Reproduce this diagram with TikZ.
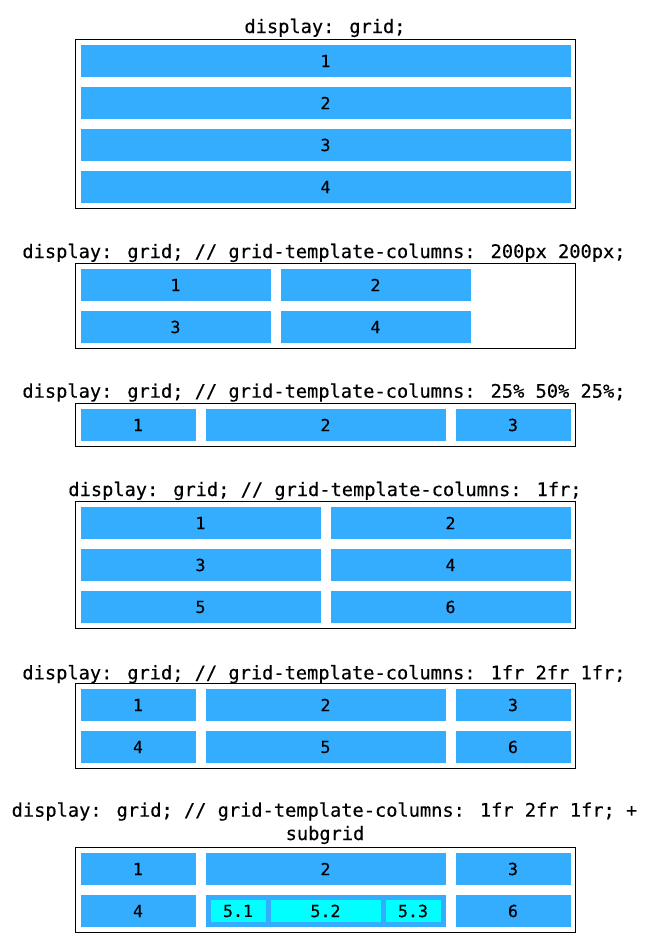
\documentclass[tikz,border=0pt]{standalone}
\usepackage{fontspec}
\newfontfamily\titlefont[FakeBold=0.4]{DejaVu Sans Mono}
\newfontfamily\cellfont[FakeBold=0.3]{DejaVu Sans Mono}
\definecolor{itemblue}{RGB}{53,173,255}
\definecolor{subcyan}{RGB}{0,255,255}
\tikzset{
  cellbox/.style={fill=itemblue, inner sep=0pt, outer sep=0pt, font=\cellfont\fontsize{12.5}{14}\selectfont},
  subbox/.style={cellbox, fill=subcyan},
  gridframe/.style={draw=black, line width=0.75pt, inner sep=0pt, outer sep=0pt},
  titletext/.style={font=\titlefont\fontsize{14}{17.5}\selectfont, anchor=base, inner sep=0pt},
}
% #1 style, #2 name, #3 x1, #4 y1, #5 x2, #6 y2, #7 text
\newcommand\gcell[7][cellbox]{%
  \node[#1, minimum width={(#5-#3)*0.75pt}, minimum height={(#6-#4)*0.75pt}] (#2) at ({(#3+#5)/2},{(#4+#6)/2}) {#7};}
% #1 name, #2 x1, #3 y1, #4 x2, #5 y2
\newcommand\gframe[5]{%
  \node[gridframe, minimum width={(#4-#2)*0.75pt}, minimum height={(#5-#3)*0.75pt}] (#1) at ({(#2+#4)/2},{(#3+#5)/2}) {};}
\begin{document}
\begin{tikzpicture}[x=0.75pt,y=-0.75pt]
\fill[white] (0,0) rectangle (648,950);
\useasboundingbox (0,0) rectangle (648,950);

% ---- Box 1 ----
\node[titletext] (t1) at (325,33) {display: grid;};
\gframe{f1}{75.5}{39.5}{575.5}{208.5}
\gcell{a1}{80.5}{45}{570.5}{77}{1}
\gcell{a2}{80.5}{87}{570.5}{119}{2}
\gcell{a3}{80.5}{129}{570.5}{161}{3}
\gcell{a4}{80.5}{171}{570.5}{203}{4}

% ---- Box 2 ----
\node[titletext] (t2) at (324,258) {display: grid; // grid-template-columns: 200px 200px;};
\gframe{f2}{75.5}{263.5}{575.5}{348.5}
\gcell{b1}{80.5}{269}{270.5}{301}{1}
\gcell{b2}{280.5}{269}{470.5}{301}{2}
\gcell{b3}{80.5}{311}{270.5}{343}{3}
\gcell{b4}{280.5}{311}{470.5}{343}{4}

% ---- Box 3 ----
\node[titletext] (t3) at (324,397.7) {display: grid; // grid-template-columns: 25\% 50\% 25\%;};
\gframe{f3}{75.5}{403.5}{575.5}{446}
\gcell{c1}{80.5}{409}{195.5}{441}{1}
\gcell{c2}{205.5}{409}{445.5}{441}{2}
\gcell{c3}{455.5}{409}{570.5}{441}{3}

% ---- Box 4 ----
\node[titletext] (t4) at (325,496) {display: grid; // grid-template-columns: 1fr;};
\gframe{f4}{75.5}{501.5}{575.5}{628}
\gcell{d1}{80.5}{507}{320.5}{539}{1}
\gcell{d2}{330.5}{507}{570.5}{539}{2}
\gcell{d3}{80.5}{549}{320.5}{581}{3}
\gcell{d4}{330.5}{549}{570.5}{581}{4}
\gcell{d5}{80.5}{591}{320.5}{623}{5}
\gcell{d6}{330.5}{591}{570.5}{623}{6}

% ---- Box 5 ----
\node[titletext] (t5) at (324,679.3) {display: grid; // grid-template-columns: 1fr 2fr 1fr;};
\gframe{f5}{75.5}{683.5}{575.5}{768}
\gcell{e1}{80.5}{689}{195.5}{721}{1}
\gcell{e2}{205.5}{689}{445.5}{721}{2}
\gcell{e3}{455.5}{689}{570.5}{721}{3}
\gcell{e4}{80.5}{731}{195.5}{763}{4}
\gcell{e5}{205.5}{731}{445.5}{763}{5}
\gcell{e6}{455.5}{731}{570.5}{763}{6}

% ---- Box 6 ----
\node[titletext] (t6a) at (324.5,816.7) {display: grid; // grid-template-columns: 1fr 2fr 1fr; +};
\node[titletext] (t6b) at (325,840) {subgrid};
\gframe{f6}{75.5}{847.5}{575.5}{932.5}
\gcell{g1}{80.5}{853}{195.5}{885}{1}
\gcell{g2}{205.5}{853}{445.5}{885}{2}
\gcell{g3}{455.5}{853}{570.5}{885}{3}
\gcell{g4}{80.5}{895}{195.5}{927}{4}
\gcell{g5}{205.5}{895}{445.5}{927}{}
\gcell{g6}{455.5}{895}{570.5}{927}{6}
\gcell[subbox]{s1}{210.5}{900}{265.5}{922}{5.1}
\gcell[subbox]{s2}{270.5}{900}{380.5}{922}{5.2}
\gcell[subbox]{s3}{385.5}{900}{440.5}{922}{5.3}
\end{tikzpicture}
\end{document}
